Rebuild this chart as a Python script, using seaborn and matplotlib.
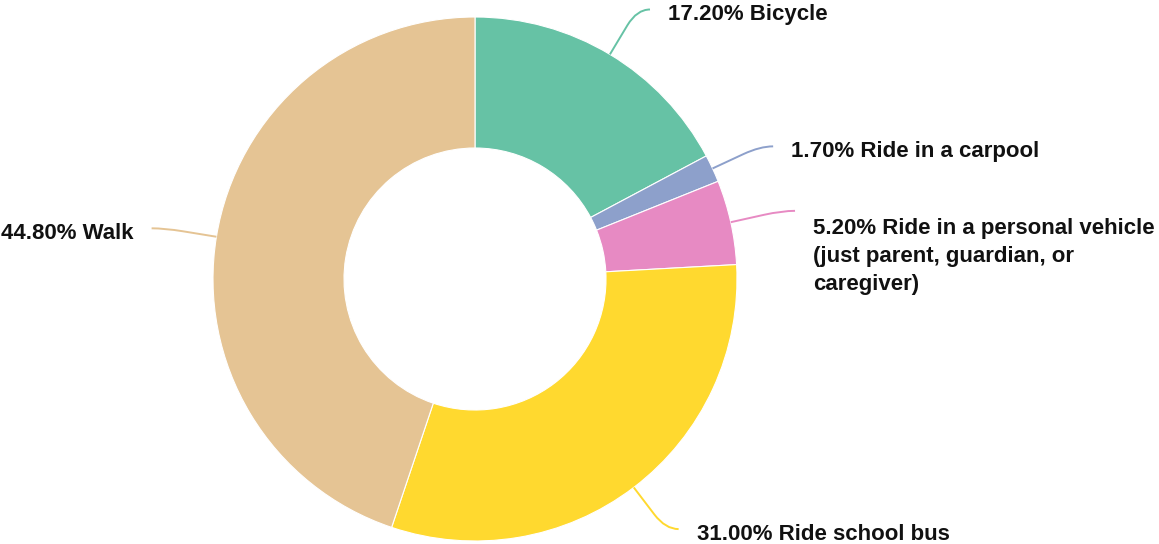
import numpy as np
import matplotlib
matplotlib.use("Agg")
import matplotlib.pyplot as plt
from matplotlib.path import Path
from matplotlib.patches import PathPatch
import seaborn as sns

# Data
modes = ["Bicycle", "Ride in a carpool",
         "Ride in a personal vehicle\n(just parent, guardian, or\ncaregiver)",
         "Ride school bus", "Walk"]
shares = [17.2, 1.7, 5.2, 31.0, 44.8]

sns.set_theme(style="white")
plt.rcParams["font.family"] = ["Liberation Sans", "DejaVu Sans"]

set2 = sns.color_palette("Set2")
colors = [set2[0], set2[2], set2[3], set2[5], set2[6]]

# pixel geometry of the reference: centre (475, 279), outer radius 262 px
W, H = 1159, 544
cx, cy, R = 475, 279, 262

fig = plt.figure(figsize=(W / 100, H / 100), dpi=100)
ax = fig.add_axes([0, 0, 1, 1])

wedges, _ = ax.pie(shares, colors=colors, startangle=90, counterclock=False,
                   radius=1, wedgeprops=dict(width=0.5, edgecolor="white", linewidth=0.8))

ax.set_xlim(-cx / R, (W - cx) / R)
ax.set_ylim(-(H - cy) / R, cy / R)
ax.set_aspect("equal")
ax.axis("off")

# leader lines + labels
for w, mode, share, col in zip(wedges, modes, shares, colors):
    ang = np.deg2rad((w.theta1 + w.theta2) / 2)
    ux, uy = np.cos(ang), np.sin(ang)
    side = 1 if ux >= 0 else -1
    p0 = (ux * 1.0, uy * 1.0)
    p1 = (ux * 1.13, uy * 1.13)
    elbow = (ux * 1.2, uy * 1.2)
    end = (elbow[0] + side * 0.05, elbow[1])
    path = Path([p0, p1, elbow, end],
                [Path.MOVETO, Path.LINETO, Path.CURVE3, Path.CURVE3])
    ax.add_patch(PathPatch(path, facecolor="none", edgecolor=col, lw=1.4))

    n_extra = mode.count("\n")
    ty = end[1] - 0.02 - n_extra * 0.077
    ax.text(end[0] + side * 0.07, ty, f"{share:.2f}% {mode}",
            ha="left" if side > 0 else "right", va="center",
            fontsize=16, fontweight="bold", color="#111111", linespacing=1.42)

fig.savefig("out.png", dpi=100)
